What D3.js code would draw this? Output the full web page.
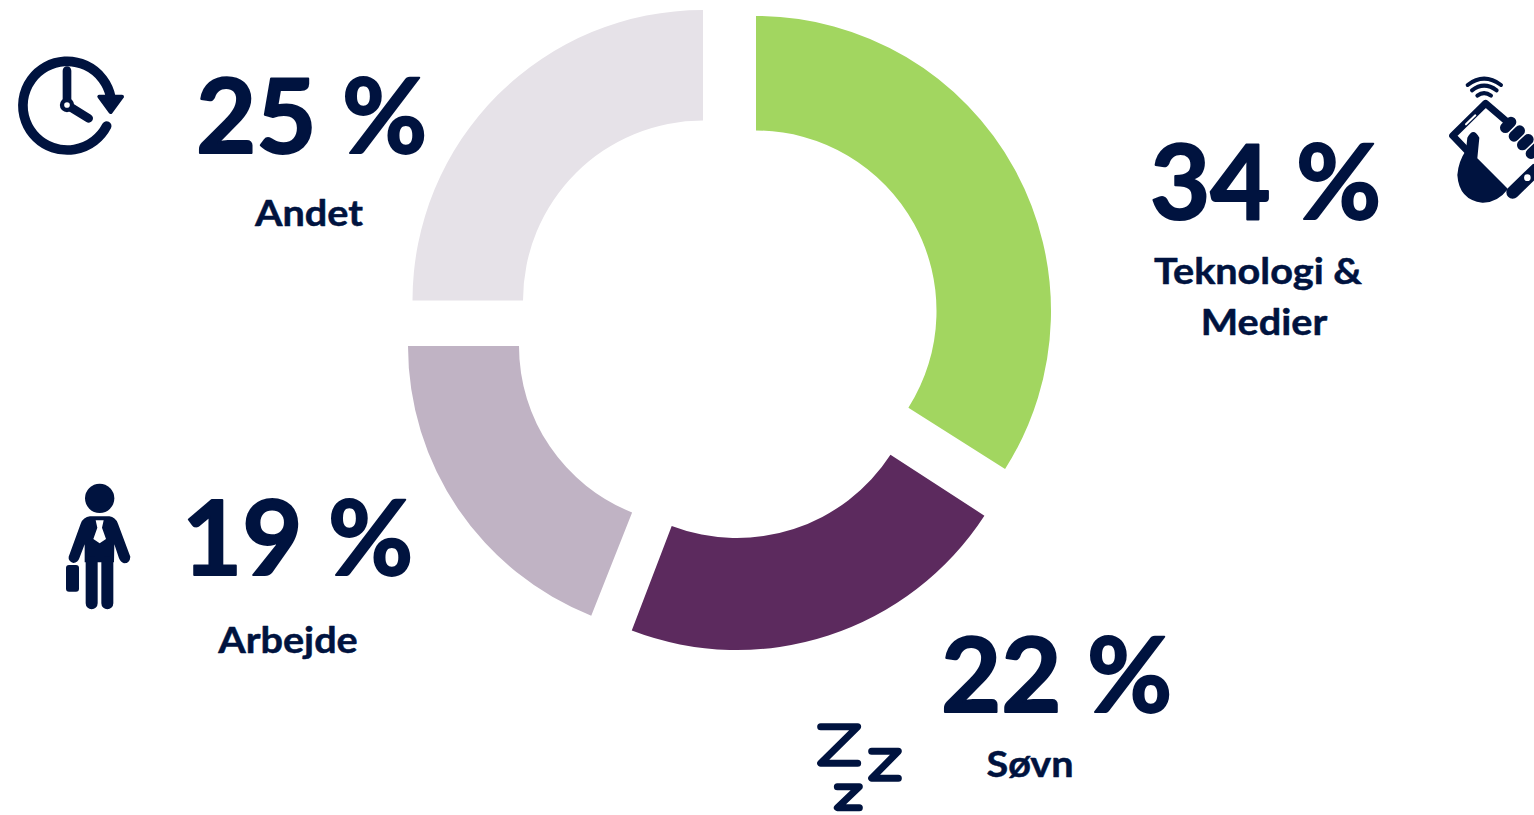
<!DOCTYPE html>
<html>
<head>
<meta charset="utf-8">
<title>Tidsforbrug</title>
<style>
  html, body { margin: 0; padding: 0; background: #fff; overflow: hidden; }
  text { font-family: Lato, sans-serif; font-weight: 700; fill: #00133f; stroke: #00133f; stroke-linejoin: round; }
</style>
</head>
<body>
<script src="https://d3js.org/d3.v7.min.js"></script>
<script>
// Data
const categories = ["Teknologi & Medier", "Søvn", "Arbejde", "Andet"];
const values = [34, 22, 19, 25];
const colors = ["#a2d660", "#5c2a5e", "#c0b3c4", "#e6e2e8"];

// each slice is pulled out on its own, so each one has its own centre
const sliceCenters = [[756, 311], [737, 355], [698, 346], [703, 300.5]];
const sliceOuter = [295, 295, 290, 290.5];
const sliceInner = [180.5, 183, 179, 180];
const sliceTrim = [[0, 0], [0.6, 0.7], [0, 0], [0, 0]]; // degrees cut off start and end

const numberPos = [[1150, 219], [941, 712], [182, 575], [196, 153]];
const labelLines = [["Teknologi &", "Medier"], ["Søvn"], ["Arbejde"], ["Andet"]];
const labelPos = [[[1258, 284], [1264, 335]], [[1030, 777]], [[288, 653]], [[309, 226]]];

const navy = "#00133f";

const svg = d3.select("body").append("svg")
  .attr("width", 1534)
  .attr("height", 815)
  .style("display", "block");

// Slices
const pie = d3.pie().sort(null)(values);
const rad = Math.PI / 180;
svg.selectAll("path.slice")
  .data(pie)
  .enter()
  .append("path")
  .attr("class", "slice")
  .attr("fill", (d, i) => colors[i])
  .attr("transform", (d, i) => `translate(${sliceCenters[i]})`)
  .attr("d", (d, i) => d3.arc()
    .innerRadius(sliceInner[i])
    .outerRadius(sliceOuter[i])
    .startAngle(d.startAngle + sliceTrim[i][0] * rad)
    .endAngle(d.endAngle - sliceTrim[i][1] * rad)());

// Big percent numbers
svg.selectAll("text.num")
  .data(values)
  .enter()
  .append("text")
  .attr("class", "num")
  .attr("x", (d, i) => numberPos[i][0])
  .attr("y", (d, i) => numberPos[i][1])
  .attr("font-size", 104)
  .attr("stroke-width", 2)
  .text(d => d + " %");

// Category labels, stretched a bit because the original font is wider
labelLines.forEach((lines, i) => {
  lines.forEach((line, j) => {
    svg.append("text")
      .attr("transform", `translate(${labelPos[i][j]}) scale(1.1,1)`)
      .attr("text-anchor", "middle")
      .attr("font-size", 36)
      .attr("stroke-width", 0.5)
      .text(line);
  });
});

// Icons are drawn in coordinates 3x the page size
function icon(x, y) {
  return svg.append("g").attr("transform", `translate(${x},${y}) scale(${1 / 3})`);
}

// clock
const clock = icon(0, 40);
clock.append("path")
  .attr("d", "M320,258 A133,133 0 1 1 332,170")
  .attr("fill", "none").attr("stroke", navy).attr("stroke-width", 29).attr("stroke-linecap", "round");
clock.append("path").attr("d", "M298,170 L366,170 L332,216 Z")
  .attr("fill", navy).attr("stroke", navy).attr("stroke-width", 12).attr("stroke-linejoin", "round");
clock.append("path").attr("d", "M201,92 L201,195 L266,235")
  .attr("fill", "none").attr("stroke", navy).attr("stroke-width", 26).attr("stroke-linecap", "round").attr("stroke-linejoin", "round");
clock.append("circle").attr("cx", 201).attr("cy", 195).attr("r", 15).attr("fill", "#fff").attr("stroke", navy).attr("stroke-width", 13);

// phone and hand
const phone = icon(1434, 65);
phone.selectAll("path.wave")
  .data(["M101,60 Q150,22 201,60", "M114,76 Q150,48 188,76", "M130,92 Q150,77 171,92"])
  .enter().append("path")
  .attr("class", "wave")
  .attr("d", d => d)
  .attr("fill", "none").attr("stroke", navy).attr("stroke-width", 12).attr("stroke-linecap", "round");
phone.append("path").attr("d", "M225,175 L155,115 L56,212 L110,268")
  .attr("fill", "none").attr("stroke", navy).attr("stroke-width", 21).attr("stroke-linejoin", "round").attr("stroke-linecap", "round");
phone.append("path").attr("d", "M236,382 L305,315").attr("fill", "none").attr("stroke", navy).attr("stroke-width", 38).attr("stroke-linecap", "round");
phone.append("path").attr("d", "M96,178 L124,151").attr("fill", "none").attr("stroke", "#fff").attr("stroke-width", 6).attr("stroke-linecap", "round");
phone.selectAll("path.finger")
  .data(["M214,188 L231,171", "M240,214 L257,197", "M265,240 L283,223", "M291,266 L309,249"])
  .enter().append("path")
  .attr("class", "finger")
  .attr("d", d => d)
  .attr("fill", "none").attr("stroke", navy).attr("stroke-width", 32).attr("stroke-linecap", "round");
phone.append("path")
  .attr("d", "M100,218 Q118,184 136,218 L130,280 L222,372 Q190,414 145,413 Q75,405 70,330 Q73,290 96,256 Z")
  .attr("fill", navy);
phone.append("circle").attr("cx", 280).attr("cy", 338).attr("r", 10).attr("fill", "#fff");

// person with briefcase
const person = icon(50, 475);
person.append("circle").attr("cx", 149).attr("cy", 70).attr("r", 44).attr("fill", navy);
person.append("path")
  .attr("d", "M120,124 L178,124 Q196,126 204,146 L241,245 Q240,264 222,265 Q212,262 207,250 L193,208 L192,262 L104,262 L104,208 L88,250 Q84,262 70,264 Q54,258 56,245 L92,146 Q100,126 120,124 Z")
  .attr("fill", navy);
person.append("path").attr("d", "M125,262 L125,385 M172,262 L172,385")
  .attr("fill", "none").attr("stroke", navy).attr("stroke-width", 36).attr("stroke-linecap", "round");
person.append("path").attr("d", "M137,136 L161,136 L156,158 L168,192 L149,205 L130,192 L142,158 Z").attr("fill", "#fff");
person.append("rect").attr("x", 48).attr("y", 270).attr("width", 39).attr("height", 80).attr("rx", 9).attr("fill", navy);

// sleep Zs
const sleep = icon(800, 710);
sleep.selectAll("path.z")
  .data(["M62,50 L173,50 L62,160 L173,160", "M215,124 L295,124 L215,205 L295,205", "M112,230 L178,230 L112,293 L178,293"])
  .enter().append("path")
  .attr("class", "z")
  .attr("d", d => d)
  .attr("fill", "none").attr("stroke", navy).attr("stroke-width", 21)
  .attr("stroke-linecap", "round").attr("stroke-linejoin", "round");
</script>
</body>
</html>
